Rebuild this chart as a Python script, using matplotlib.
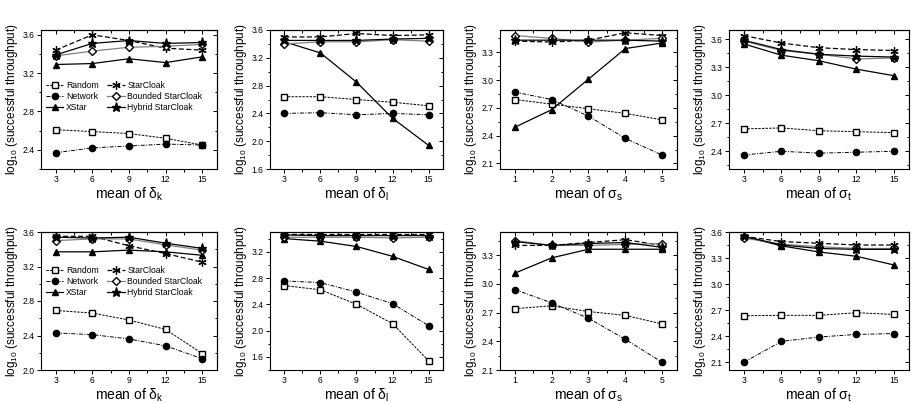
import matplotlib
matplotlib.use("Agg")
import matplotlib.pyplot as plt
from matplotlib.ticker import MultipleLocator, AutoMinorLocator, FormatStrFormatter

plt.rcParams['font.family'] = ['Liberation Sans', 'DejaVu Sans']
plt.rcParams['mathtext.fontset'] = 'custom'
plt.rcParams['mathtext.rm'] = 'Liberation Sans'
plt.rcParams['mathtext.it'] = 'Liberation Sans'

series_names = ["Random", "Network", "XStar", "StarCloak", "Bounded StarCloak", "Hybrid StarCloak"]

x_delta = [3, 6, 9, 12, 15]
x_sigma_s = [1, 2, 3, 4, 5]

# top row
p1 = {
    "Random":            [2.61, 2.59, 2.57, 2.52, 2.45],
    "Network":           [2.37, 2.42, 2.44, 2.46, 2.45],
    "XStar":             [3.29, 3.30, 3.35, 3.31, 3.37],
    "StarCloak":         [3.44, 3.60, 3.54, 3.46, 3.44],
    "Bounded StarCloak": [3.38, 3.43, 3.47, 3.48, 3.50],
    "Hybrid StarCloak":  [3.39, 3.51, 3.54, 3.51, 3.52],
}
p2 = {
    "Random":            [2.64, 2.64, 2.60, 2.56, 2.51],
    "Network":           [2.40, 2.41, 2.38, 2.40, 2.38],
    "XStar":             [3.43, 3.27, 2.85, 2.33, 1.94],
    "StarCloak":         [3.50, 3.50, 3.55, 3.52, 3.53],
    "Bounded StarCloak": [3.40, 3.43, 3.43, 3.46, 3.44],
    "Hybrid StarCloak":  [3.45, 3.45, 3.45, 3.47, 3.48],
}
p3 = {
    "Random":            [2.79, 2.74, 2.69, 2.64, 2.57],
    "Network":           [2.87, 2.79, 2.61, 2.37, 2.19],
    "XStar":             [2.49, 2.68, 3.01, 3.34, 3.40],
    "StarCloak":         [3.42, 3.41, 3.43, 3.51, 3.48],
    "Bounded StarCloak": [3.48, 3.45, 3.41, 3.43, 3.45],
    "Hybrid StarCloak":  [3.43, 3.43, 3.43, 3.43, 3.42],
}
p4 = {
    "Random":            [2.64, 2.65, 2.62, 2.61, 2.60],
    "Network":           [2.36, 2.40, 2.38, 2.39, 2.40],
    "XStar":             [3.55, 3.43, 3.37, 3.28, 3.21],
    "StarCloak":         [3.64, 3.56, 3.51, 3.49, 3.48],
    "Bounded StarCloak": [3.58, 3.48, 3.44, 3.39, 3.40],
    "Hybrid StarCloak":  [3.59, 3.49, 3.44, 3.42, 3.41],
}
# bottom row
p5 = {
    "Random":            [2.69, 2.66, 2.58, 2.47, 2.19],
    "Network":           [2.43, 2.41, 2.36, 2.28, 2.13],
    "XStar":             [3.37, 3.37, 3.39, 3.37, 3.33],
    "StarCloak":         [3.55, 3.55, 3.44, 3.35, 3.25],
    "Bounded StarCloak": [3.50, 3.52, 3.52, 3.45, 3.39],
    "Hybrid StarCloak":  [3.54, 3.53, 3.54, 3.47, 3.41],
}
p6 = {
    "Random":            [2.685, 2.62, 2.40, 2.105, 1.54],
    "Network":           [2.755, 2.73, 2.585, 2.41, 2.075],
    "XStar":             [3.40, 3.36, 3.28, 3.13, 2.93],
    "StarCloak":         [3.47, 3.47, 3.47, 3.47, 3.47],
    "Bounded StarCloak": [3.42, 3.42, 3.42, 3.41, 3.42],
    "Hybrid StarCloak":  [3.455, 3.445, 3.445, 3.445, 3.445],
}
p7 = {
    "Random":            [2.74, 2.77, 2.71, 2.67, 2.58],
    "Network":           [2.94, 2.80, 2.64, 2.42, 2.18],
    "XStar":             [3.11, 3.27, 3.36, 3.36, 3.36],
    "StarCloak":         [3.40, 3.40, 3.43, 3.46, 3.40],
    "Bounded StarCloak": [3.45, 3.40, 3.40, 3.41, 3.42],
    "Hybrid StarCloak":  [3.44, 3.40, 3.42, 3.43, 3.38],
}
p8 = {
    "Random":            [2.635, 2.64, 2.64, 2.67, 2.65],
    "Network":           [2.10, 2.34, 2.39, 2.42, 2.43],
    "XStar":             [3.55, 3.44, 3.37, 3.32, 3.22],
    "StarCloak":         [3.55, 3.49, 3.47, 3.45, 3.45],
    "Bounded StarCloak": [3.53, 3.46, 3.43, 3.41, 3.41],
    "Hybrid StarCloak":  [3.55, 3.45, 3.41, 3.40, 3.40],
}

xlabels = ["mean of $\\delta_k$", "mean of $\\delta_l$", "mean of $\\sigma_s$", "mean of $\\sigma_t$"]
ylabel = "log$_{10}$ (successful throughput)"

styles = {
    "Random":            dict(color="black", ls=(0, (2.5, 1.2)), marker="s", mfc="white", ms=4.2, lw=0.7),
    "Network":           dict(color="black", ls=(0, (4, 1.5, 1, 1.5)), marker="o", mfc="black", ms=4.5, lw=0.7),
    "XStar":             dict(color="black", ls="-", marker="^", mfc="black", ms=4.8, lw=0.9),
    "StarCloak":         dict(color="black", ls=(0, (4, 2)), marker=(6, 2, 0), mfc="black", ms=6, lw=0.9, mew=0.9),
    "Bounded StarCloak": dict(color="0.5", ls="-", marker="D", mfc="white", mec="black", ms=3.8, lw=0.9),
    "Hybrid StarCloak":  dict(color="black", ls="-", marker="*", mfc="black", ms=6.5, lw=0.9),
}

panels = [
    (p1, x_delta, (2.2, 3.65), 0.4, [3, 6, 9, 12, 15]),
    (p2, x_delta, (1.6, 3.6), 0.4, [3, 6, 9, 12, 15]),
    (p3, x_sigma_s, (2.04, 3.54), 0.3, [1, 2, 3, 4, 5]),
    (p4, x_delta, (2.21, 3.70), 0.3, [3, 6, 9, 12, 15]),
    (p5, x_delta, (2.0, 3.6), 0.4, [3, 6, 9, 12, 15]),
    (p6, x_delta, (1.4, 3.5), 0.4, [3, 6, 9, 12, 15]),
    (p7, x_sigma_s, (2.1, 3.54), 0.3, [1, 2, 3, 4, 5]),
    (p8, x_delta, (2.01, 3.6), 0.3, [3, 6, 9, 12, 15]),
]
legend_anchor_y = [0.645, 0.765]

W, H = 912, 403
fig = plt.figure(figsize=(W / 100, H / 100), dpi=100)
col_px = [(41, 217), (270, 443), (500, 677), (729, 909)]
row_px = [(30, 169), (232, 370)]

for i, (data, xs, ylim, ystep, xt) in enumerate(panels):
    r, c = divmod(i, 4)
    x0, x1 = col_px[c]
    y0, y1 = row_px[r]
    ax = fig.add_axes([x0 / W, 1 - y1 / H, (x1 - x0) / W, (y1 - y0) / H])
    for name in series_names:
        st = dict(styles[name])
        mec = st.pop("mec", "black")
        ax.plot(xs, data[name], label=name, mec=mec, **st)
    span = xs[-1] - xs[0]
    ax.set_xlim(xs[0] - 0.1 * span, xs[-1] + 0.1 * span)
    ax.set_ylim(*ylim)
    ax.set_xticks(xt)
    ax.yaxis.set_major_locator(MultipleLocator(ystep))
    ax.xaxis.set_minor_locator(AutoMinorLocator(2))
    ax.yaxis.set_minor_locator(AutoMinorLocator(2))
    ax.yaxis.set_major_formatter(FormatStrFormatter('%.1f'))
    ax.tick_params(which="both", direction="out", labelsize=6.2, width=0.7, pad=1.5)
    ax.tick_params(which="major", length=3)
    ax.tick_params(which="minor", length=1.8)
    for s in ax.spines.values():
        s.set_linewidth(0.8)
    # mirrored inward ticks on top and right
    tx = ax.secondary_xaxis("top")
    tx.set_xticks(xt)
    tx.xaxis.set_minor_locator(AutoMinorLocator(2))
    tx.tick_params(which="both", direction="in", labeltop=False, width=0.7)
    tx.tick_params(which="major", length=3)
    tx.tick_params(which="minor", length=1.8)
    ty = ax.secondary_yaxis("right")
    ty.yaxis.set_major_locator(MultipleLocator(ystep))
    ty.yaxis.set_minor_locator(AutoMinorLocator(2))
    ty.tick_params(which="both", direction="in", labelright=False, width=0.7)
    ty.tick_params(which="major", length=3)
    ty.tick_params(which="minor", length=1.8)

    ax.set_xlabel(xlabels[c], fontsize=10, labelpad=1)
    ax.set_ylabel(ylabel, fontsize=8.5, labelpad=2)

    if c == 0:
        ax.legend(loc="upper left", bbox_to_anchor=(0.02, legend_anchor_y[r]), ncol=2, frameon=False,
                  fontsize=6.2, handlelength=2.0, columnspacing=1.0, labelspacing=0.25,
                  handletextpad=0.3, borderaxespad=0.0, borderpad=0.2)

fig.savefig("out.png", dpi=100)
